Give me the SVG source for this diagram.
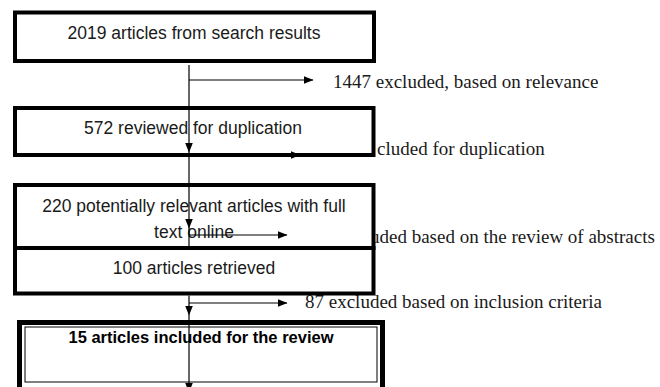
<svg xmlns="http://www.w3.org/2000/svg" width="660" height="387" viewBox="0 0 660 387">
<defs>
<marker id="ah" markerWidth="10" markerHeight="8" refX="9.5" refY="4" orient="auto" markerUnits="userSpaceOnUse">
<path d="M0,0 L10,4 L0,8 Z" fill="#000"/>
</marker>
<style>
.box{fill:#fff;stroke:#000;stroke-width:4}
.thin{fill:none;stroke:#000;stroke-width:1}
.t{font-family:"Liberation Sans",Arial,sans-serif;font-size:17.5px;fill:#1a1a1a;text-anchor:middle}
.tb{font-family:"Liberation Sans",Arial,sans-serif;font-size:16.5px;font-weight:bold;fill:#000;text-anchor:middle}
.s{font-family:"Liberation Serif","Times New Roman",serif;font-size:19px;fill:#1a1a1a}
.c{stroke:#000;stroke-width:1.2;fill:none}
</style>
</defs>
<rect width="660" height="387" fill="#fff"/>
<g id="labels">
<text class="s" x="333" y="88">1447 excluded, based on relevance</text>
<text class="s" x="377" y="155">cluded for duplication</text>
<text class="s" x="370" y="243">uded based on the review of abstracts</text>
<text class="s" x="305" y="308">87 excluded based on inclusion criteria</text>
</g>
<g id="n1">
<rect class="box" x="15" y="12.5" width="359" height="48.5"/>
<text class="t" x="194" y="39">2019 articles from search results</text>
</g>
<g id="n2">
<rect class="box" x="15" y="108" width="358.5" height="47"/>
<text class="t" x="193" y="134">572 reviewed for duplication</text>
</g>
<g id="n3">
<rect class="box" x="15" y="185" width="358.5" height="63"/>
<text class="t" x="194" y="212">220 potentially relevant articles with full</text>
<text class="t" x="194" y="238">text online</text>
</g>
<g id="connectors-upper">
<line class="c" x1="189" y1="65" x2="189" y2="152" marker-end="url(#ah)"/>
<line class="c" x1="189" y1="152" x2="189" y2="228" marker-end="url(#ah)"/>
<line class="c" x1="189" y1="228" x2="189" y2="248"/>
<line class="c" x1="189" y1="80" x2="313" y2="80" marker-end="url(#ah)"/>
<line class="c" x1="189" y1="155" x2="300" y2="155" marker-end="url(#ah)"/>
<line class="c" x1="189" y1="235" x2="287" y2="235" marker-end="url(#ah)"/>
</g>
<g id="n4">
<rect class="box" x="15" y="248" width="358.5" height="45.5"/>
<text class="t" x="194" y="274">100 articles retrieved</text>
</g>
<g id="n5">
<rect x="19.5" y="322.5" width="363" height="72" fill="#fff" stroke="#000" stroke-width="5"/>
<rect class="thin" x="25" y="327" width="352" height="55"/>
<text class="tb" x="201" y="343">15 articles included for the review</text>
</g>
<g id="connectors">
<line class="c" x1="189" y1="295.5" x2="189" y2="315" marker-end="url(#ah)"/>
<line class="c" x1="189" y1="303" x2="287" y2="303" marker-end="url(#ah)"/>
<line class="c" x1="189" y1="315" x2="189" y2="392" marker-end="url(#ah)"/>
</g>
</svg>
